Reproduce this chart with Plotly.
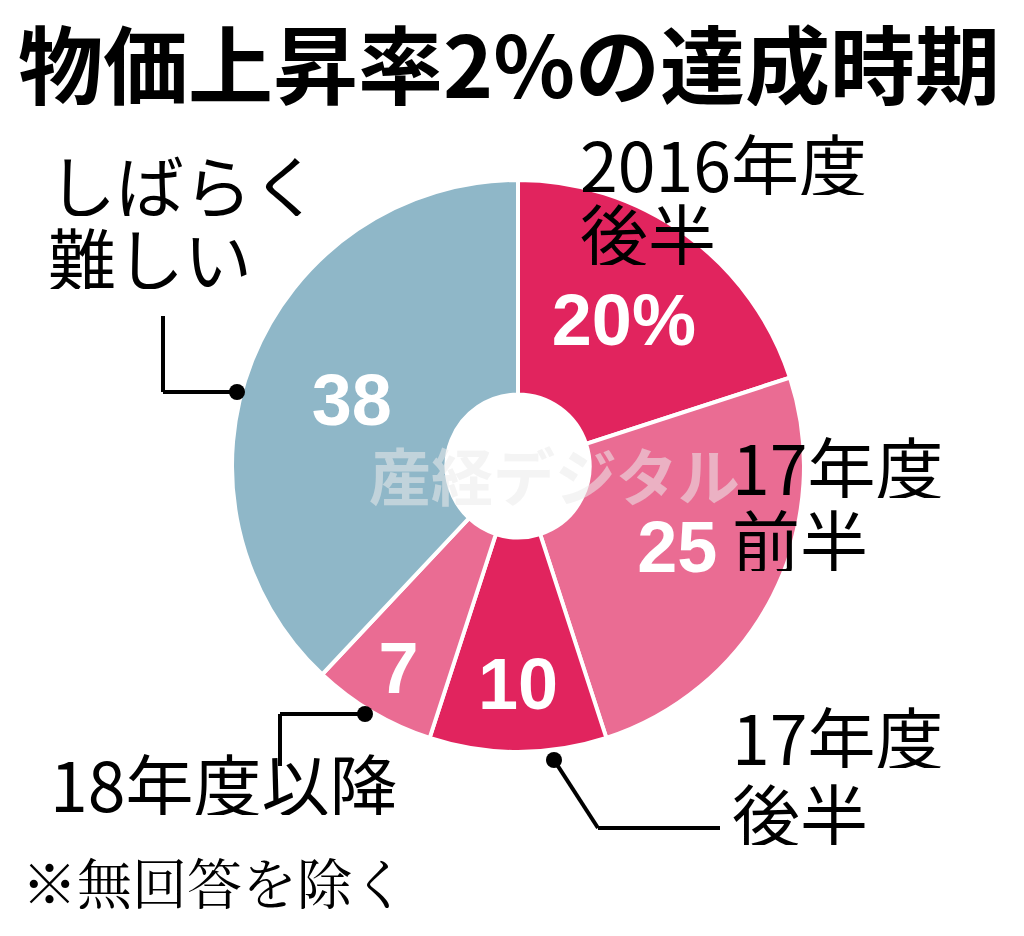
import plotly.graph_objects as go

# ---- data ----
categories = ["2016年度後半", "17年度前半", "17年度後半", "18年度以降", "しばらく難しい"]
values = [20, 25, 10, 7, 38]
slice_text = ["20%", "25", "10", "7", "38"]
colors = ["#E1245E", "#EA6C93", "#E1245E", "#EA6C93", "#8FB7C8"]

title_text = "物価上昇率2%の達成時期"
note_text = "※無回答を除く"

W, H = 1024, 936
cx, cy, R = 510, 458, 286

def px(x):
    return x / W

def py(y):
    return 1 - y / H

fig = go.Figure()
fig.add_trace(go.Pie(
    labels=categories,
    values=values,
    text=slice_text,
    textinfo="text",
    texttemplate="%{text}",
    textposition="inside",
    insidetextorientation="horizontal",
    textfont=dict(family="Liberation Sans, Arial, sans-serif", size=72, color="white", weight="bold"),
    sort=False,
    direction="clockwise",
    rotation=0,
    hole=0.25,
    marker=dict(colors=colors, line=dict(color="white", width=4)),
    domain=dict(x=[px(cx - R), px(cx + R)], y=[py(cy + R), py(cy - R)]),
    showlegend=False,
    hoverinfo="label+value",
))

JP = "Noto Sans CJK JP"
ann = []
def label(x, y, t, size=68, weight="normal", family=JP, color="black", h=None):
    a = dict(x=px(x), y=py(y), xref="paper", yref="paper", text=t,
             showarrow=False, xanchor="left", yanchor="middle", valign="middle",
             font=dict(family=family, size=size, color=color, weight=weight))
    if h:
        a["height"] = h
    ann.append(a)

# title
label(8, 52, title_text, size=85, weight="bold", h=92)
# outer labels
LH = 66
label(570, 154, "2016年度", h=LH)
label(570, 224, "後半", h=LH)
label(38, 175, "しばらく", h=LH)
label(38, 248, "難しい", h=LH)
label(722, 457, "17年度", h=LH)
label(722, 530, "前半", h=LH)
label(722, 727, "17年度", h=LH)
label(722, 804, "後半", h=LH)
label(40, 774, "18年度以降", h=LH)
label(12, 872, note_text, size=55, family="Noto Serif CJK JP, Noto Sans CJK JP", h=58)
# watermark
ann.append(dict(x=px(546), y=py(466), xref="paper", yref="paper", text="産経デジタル",
                showarrow=False, xanchor="center", yanchor="middle",
                font=dict(family=JP, size=62, color="rgba(235,235,235,0.55)", weight="bold")))

shapes = []
def line(x0, y0, x1, y1):
    shapes.append(dict(type="line", xref="paper", yref="paper",
                       x0=px(x0), y0=py(y0), x1=px(x1), y1=py(y1),
                       line=dict(color="black", width=4)))

def dot(x, y, r=8):
    shapes.append(dict(type="circle", xref="paper", yref="paper",
                       x0=px(x - r), y0=py(y + r), x1=px(x + r), y1=py(y - r),
                       fillcolor="black", line=dict(color="black", width=0)))

line(155, 308, 155, 384); line(155, 384, 229, 384); dot(229, 384)
line(357, 706, 272, 706); line(272, 706, 272, 758); dot(357, 706)
line(546, 752, 590, 820); line(590, 820, 712, 820); dot(546, 752)

fig.update_layout(
    width=W, height=H,
    margin=dict(l=0, r=0, t=0, b=0),
    paper_bgcolor="white", plot_bgcolor="white",
    annotations=ann, shapes=shapes,
    uniformtext=dict(minsize=72, mode="show"),
)

fig.write_html("out.html")
